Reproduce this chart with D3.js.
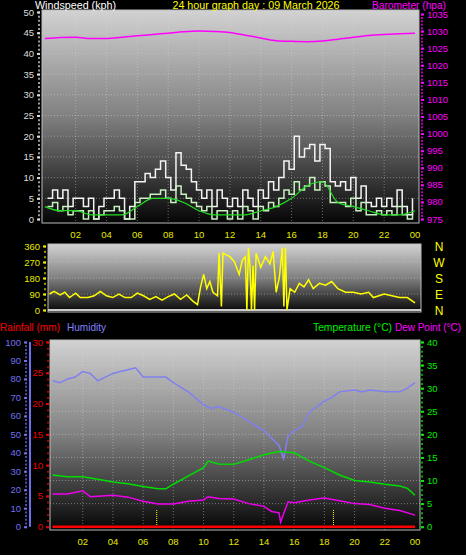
<!DOCTYPE html>
<html><head><meta charset="utf-8">
<script src="https://cdn.jsdelivr.net/npm/d3@7"></script>
<style>body{margin:0;background:#000}svg{display:block;font-family:"Liberation Sans",sans-serif}</style>
</head><body><svg id="c" width="466" height="555"></svg>
<script>
const title = '24 hour graph day : 09 March 2026';
const hourTicks = [2,4,6,8,10,12,14,16,18,20,22,24];
const hourLabels = ['02','04','06','08','10','12','14','16','18','20','22','00'];

// wind, every 20 minutes
const gust = [5,7,5, 7,3,5, 5,3,5, 0,3,5, 5,7,5, 0,3,9, 9,11,10, 12,14,10, 7,16,13, 12,9,7,
  5,7,3, 7,5,3, 5,3,7, 5,3,7, 5,9,7, 10,14,12, 20,15,17, 18,14,18, 17,9,8, 9,7,10,
  5,8,4, 3,5,3, 5,3,7, 3,1,5];
const speed = [3,4,2, 3,1,2, 2,0,2, 0,1,2, 2,3,2, 0,0,4, 5,5,6, 6,7,5, 4,8,6, 5,4,3,
  2,3,0, 2,2,0, 2,0,3, 2,0,3, 2,4,3, 5,7,6, 9,7,8, 10,7,9, 8,4,4, 4,3,5,
  2,4,1, 1,2,1, 2,1,3, 1,0,2];
const avgWind = [3,2,2,1,1,1,3,5,5,4,2,1,1,1,2,3,5,8,9,4,3,2,1,1,2];
const baro = [1027.8,1028.1,1028.2,1027.8,1027.8,1028.2,1028.6,1029.0,1029.4,1029.8,1030.0,1029.9,
  1029.6,1028.8,1028.0,1027.2,1027.0,1026.9,1027.1,1027.6,1028.2,1028.7,1029.0,1029.2,1029.4];

const dirT = [0.3,0.6,1.0,1.3,1.6,2.0,2.3,2.8,3.2,3.6,4.0,4.4,4.8,5.2,5.6,6.0,6.4,6.8,7.2,7.6,8.0,8.4,8.8,9.2,9.6,9.9,
  10.1,10.3,10.5,10.7,10.9,11.2,11.3,11.45,11.55,12.0,12.3,12.6,12.8,13.0,13.1,13.2,13.3,13.4,13.5,13.6,13.7,14.0,14.3,14.6,14.8,
  15.0,15.2,15.4,15.5,15.6,15.7,15.9,16.2,16.5,16.8,17.1,17.4,17.8,18.2,18.6,19.0,19.5,20.0,20.5,21.0,21.3,22.0,22.5,23.0,23.5,24.0];
const dirV = [90,105,85,100,70,95,70,70,80,105,80,70,90,70,70,95,80,60,75,55,75,90,60,85,50,30,
  130,200,120,160,100,80,320,20,320,300,270,200,280,300,0,350,250,0,250,0,320,240,300,260,330,
  100,180,350,20,350,0,120,100,150,130,170,120,150,140,160,120,100,100,90,100,70,90,80,70,70,40];
const compass = ['N','W','S','E','N'];

const humT = [0,0.5,1,1.5,2,2.5,3,3.5,4,4.5,5,5.5,6,7,7.5,8,9,10,10.5,11,12,13,14,14.5,15,15.3,15.6,16,16.5,17,17.5,18,18.5,19,20,20.5,21,22,23,23.5,24];
const humV = [79,78,80,81,84,83,79,81,83,84,85,86,81,81,81,78,73,66,64,65,62,57,52,48,44,37,49,52,54,62,65,68,70,73,74,73,74,73,73,75,78];
const tempT = [0,1,2,3,4,5,6,7,7.5,8,9,10,10.3,11,12,13,14,15,16,17,18,19,20,21,22,23,23.5,24];
const tempV = [11.2,10.8,10.8,10.3,9.7,9.3,8.7,8.2,8.2,9.2,11,12.8,14.2,13.6,13.5,14.5,15.6,16.3,16,14.2,12.8,11.2,10,9.7,9.2,8.8,8.3,6.8];
const dewT = [0,1,2,2.5,3,4,5,6,7,8,9,10,10.3,11,12,13,14,14.5,15,15.1,15.3,15.6,16,17,18,19,20,21,22,23,24];
const dewV = [7.1,7.1,7.8,6.5,6.6,6.8,6.4,5.5,4.9,4.9,5.5,5.8,6.5,6.1,6.0,5.0,4.4,3.3,3,1,2.8,5.4,5.2,5.8,6.2,5.6,5.0,4.8,4.0,3.5,2.5];
const rainT = [0,24];
const rainV = [0,0];
const sunTimes = [6.9,18.6];

const svg = d3.select('#c');
const defs = svg.append('defs');
const g = defs.append('linearGradient').attr('id','bg').attr('x1',0).attr('y1',0).attr('x2',0).attr('y2',1);
g.append('stop').attr('offset','0%').attr('stop-color','#d2d2d2');
g.append('stop').attr('offset','50%').attr('stop-color','#808080');
g.append('stop').attr('offset','100%').attr('stop-color','#050505');

function panel(x0,y0,x1,y1){
  svg.append('rect').attr('x',x0).attr('y',y0).attr('width',x1-x0).attr('height',y1-y0)
    .attr('fill','url(#bg)').attr('stroke','#bbb').attr('stroke-width',1);
}
function text(x,y,s,fill,anchor,size,len){
  const t = svg.append('text').attr('x',x).attr('y',y).text(s).attr('fill',fill)
    .attr('text-anchor',anchor||'start').attr('font-size',size||11);
  if (len) t.attr('textLength',len).attr('lengthAdjust','spacingAndGlyphs');
  return t;
}
function grid(x, y, xs, ys, x0, x1, y0, y1){
  const gg = svg.append('g').attr('stroke','#d8d8d8').attr('stroke-opacity',0.45).attr('stroke-dasharray','1,2');
  xs.forEach(v=>gg.append('line').attr('x1',x(v)).attr('x2',x(v)).attr('y1',y0).attr('y2',y1));
  ys.forEach(v=>gg.append('line').attr('x1',x0).attr('x2',x1).attr('y1',y(v)).attr('y2',y(v)));
}
function axisTicks(scale, xpos, color, ticks, side, minor){
  const ax = (side==='right'?d3.axisRight(scale):d3.axisLeft(scale)).tickValues(ticks).tickSize(3).tickFormat(d3.format('d'));
  const a = svg.append('g').attr('transform',`translate(${xpos},0)`).call(ax);
  a.select('.domain').remove();
  a.selectAll('line').attr('stroke',color).attr('stroke-width',2);
  a.selectAll('text').attr('fill',color).attr('font-size',9.5).attr('font-family','Liberation Sans, sans-serif');
  if (minor){
    const m = (side==='right'?d3.axisRight(scale):d3.axisLeft(scale)).tickValues(minor).tickSize(2).tickFormat('');
    const b = svg.append('g').attr('transform',`translate(${xpos},0)`).call(m);
    b.select('.domain').remove();
    b.selectAll('line').attr('stroke',color).attr('stroke-opacity',0.7).attr('stroke-width',2);
  }
  return a;
}
function hourAxis(x, y){
  hourTicks.forEach((h,i)=>text(x(h),y,hourLabels[i],'#e8e800','middle',9.5));
}
const t20 = i => i/3;

// ---------- top panel ----------
const xT = d3.scaleLinear().domain([0,24]).range([44.8,415]);
const yW = d3.scaleLinear().domain([0,50]).range([219,12]);
const yB = d3.scaleLinear().domain([975,1035]).range([219,14]);
panel(42,10,419,223);
grid(xT,yW,hourTicks.slice(0,11),d3.range(5,50,5),42,419,10,223);
axisTicks(yW,40,'#ddd',d3.range(0,51,5),'left',d3.range(0,51,1));
axisTicks(yB,421,'#ff00ff',d3.range(975,1036,5),'right',d3.range(975,1036,1));
svg.append('path').datum(gust).attr('fill','none').attr('stroke','#f4f4f4').attr('stroke-width',1.5)
  .attr('d',d3.line().x((d,i)=>xT(t20(i)+0.17)).y(d=>yW(d)).curve(d3.curveStepAfter));
svg.append('path').datum(speed).attr('fill','none').attr('stroke','#c8f0c0').attr('stroke-width',1.5)
  .attr('d',d3.line().x((d,i)=>xT(t20(i)+0.17)).y(d=>yW(d)).curve(d3.curveStepAfter));
svg.append('path').datum(avgWind).attr('fill','none').attr('stroke','#22dd22').attr('stroke-width',1.2)
  .attr('d',d3.line().x((d,i)=>xT(i)).y(d=>yW(d)).curve(d3.curveMonotoneX));
svg.append('path').datum(baro).attr('fill','none').attr('stroke','#ff00ff').attr('stroke-width',1.5)
  .attr('d',d3.line().x((d,i)=>xT(i)).y(d=>yB(d)).curve(d3.curveMonotoneX));
hourAxis(xT,238);
text(35,9,'Windspeed (kph)','#fff','start',10,81);
text(256,9,title,'#ffff00','middle',10,167);
text(446,9,'Barometer (hpa)','#ff00ff','end',10,74);

// ---------- direction panel ----------
const yD = d3.scaleLinear().domain([0,360]).range([310,246]);
panel(48,244,421,312);
grid(xT,yD,[],[90,180,270],48,421,244,312);
axisTicks(yD,46,'#e8e800',[0,90,180,270,360],'left',d3.range(0,361,30));
svg.append('line').attr('x1',48).attr('x2',421).attr('y1',yD(0)).attr('y2',yD(0)).attr('stroke','#ccc').attr('stroke-width',2);
svg.append('path').datum(dirV).attr('fill','none').attr('stroke','#ffff00').attr('stroke-width',1.5)
  .attr('d',d3.line().x((d,i)=>xT(dirT[i])).y(d=>yD(d)));
compass.forEach((c,i)=>text(439,yD(360-i*90)+5,c,'#ffff00','middle',12));

// ---------- bottom panel ----------
const xB = d3.scaleLinear().domain([0,24]).range([52.5,415]);
const yH = d3.scaleLinear().domain([0,100]).range([526.7,342]);
const yR = d3.scaleLinear().domain([0,30]).range([526.7,342]);
const yTmp = d3.scaleLinear().domain([0,40]).range([526.7,342]);
panel(50,340,420,530);
grid(xB,yTmp,hourTicks.slice(0,11),d3.range(5,40,5),50,420,340,530);
svg.append('line').attr('x1',30).attr('x2',30).attr('y1',yH(100)).attr('y2',yH(0)).attr('stroke','#7070ee').attr('stroke-width',2);
axisTicks(yH,27,'#7070ee',d3.range(0,101,10),'left',d3.range(0,101,2));
axisTicks(yR,49,'#ee0000',d3.range(0,31,5),'left',d3.range(0,31,1));
axisTicks(yTmp,421,'#00ee00',d3.range(0,41,5),'right',d3.range(0,41,1));
sunTimes.forEach(s=>svg.append('line').attr('x1',xB(s)).attr('x2',xB(s)).attr('y1',510).attr('y2',yR(0))
  .attr('stroke','#ffff00').attr('stroke-dasharray','1,1'));
svg.append('path').datum(rainV).attr('fill','none').attr('stroke','#ff0000').attr('stroke-width',2.5)
  .attr('d',d3.line().x((d,i)=>xB(rainT[i])).y(d=>yR(d)));
svg.append('path').datum(humV).attr('fill','none').attr('stroke','#8080f0').attr('stroke-width',1.5)
  .attr('d',d3.line().x((d,i)=>xB(humT[i])).y(d=>yH(d)));
svg.append('path').datum(tempV).attr('fill','none').attr('stroke','#00dd00').attr('stroke-width',1.5)
  .attr('d',d3.line().x((d,i)=>xB(tempT[i])).y(d=>yTmp(d)));
svg.append('path').datum(dewV).attr('fill','none').attr('stroke','#ee00ee').attr('stroke-width',1.5)
  .attr('d',d3.line().x((d,i)=>xB(dewT[i])).y(d=>yTmp(d)));
hourAxis(xB,545);
text(0,331,'Rainfall (mm)','#ff0000','start',11,60);
text(67,331,'Humidity','#8080ff','start',11,39);
text(313,331,'Temperature (°C)','#00ee00','start',11,79);
text(461,331,'Dew Point (°C)','#ff00ff','end',11,66);
</script></body></html>
